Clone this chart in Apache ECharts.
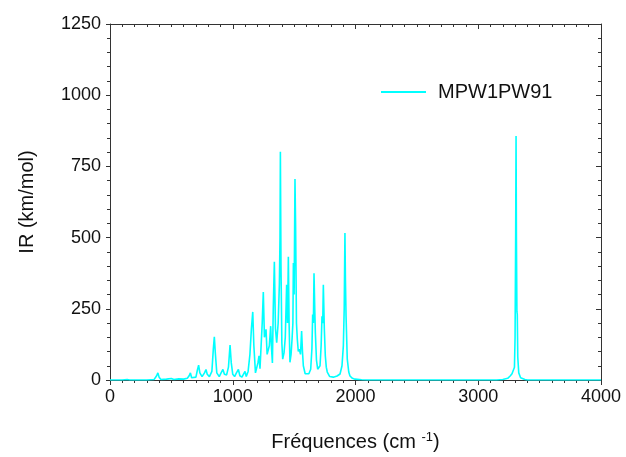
<!DOCTYPE html>
<html>
<head>
<meta charset="utf-8">
<script src="https://cdn.jsdelivr.net/npm/echarts@6/dist/echarts.min.js"></script>
<style>html,body{margin:0;padding:0;background:#fff}#c{width:626px;height:457px}</style>
</head>
<body>
<div id="c"></div>
<script>
var seriesName = 'MPW1PW91';
var xTicks = [0, 1000, 2000, 3000, 4000];
var yTicks = [0, 250, 500, 750, 1000, 1250];
var freq = [0,100,140,160,300,360,380,390,400,415,460,500,520,560,600,630,645,655,665,680,
  700,712,722,732,750,770,782,792,810,830,842,850,858,870,890,905,920,932,950,965,978,988,
  1000,1015,1030,1046,1058,1075,1090,1100,1110,1125,1140,1152,1163,1172,1185,1193,1205,1214,
  1222,1228,1240,1249,1258,1271,1280,1287,1298,1309,1316,1323,1330,1339,1348,1358,1370,1380,
  1385,1388,1393,1400,1407,1418,1428,1439,1446,1453,1459,1466,1475,1483,1490,1494,1500,1507,
  1512,1519,1526,1534,1542,1552,1561,1568,1575,1590,1602,1620,1635,1645,1651,1657,1662,1668,
  1673,1682,1692,1702,1711,1720,1727,1733,1738,1746,1754,1762,1770,1790,1819,1850,1874,1890,
  1901,1908,1914,1918,1923,1933,1945,1955,1975,1996,2050,2100,3150,3200,3240,3260,3275,3285,
  3295,3300,3305,3308,3311,3315,3318,3322,3330,3345,3380,3400,4000];
var ir = [0,0,2,0,0,2,15,25,10,2,3,5,2,4,3,6,15,25,8,4,
  10,35,52,25,12,25,37,20,12,30,110,152,95,25,12,25,37,20,18,45,123,60,
  20,12,25,37,15,10,22,30,12,30,90,180,239,120,25,21,60,85,
  40,37,200,309,150,178,90,85,120,189,110,60,250,415,180,131,200,338,
  500,801,400,130,73,96,150,334,200,433,200,62,90,143,200,411,300,706,
  543,200,143,100,108,90,172,100,50,22,15,22,38,110,230,200,375,250,
  166,70,38,40,50,120,224,200,334,180,85,45,28,12,10,14,21,50,
  120,250,516,350,224,73,28,14,6,3,1,0,0,2,6,14,22,20,
  45,150,520,857,500,240,230,80,25,8,2,0,0];

var data = freq.map(function (f, i) { return [f, ir[i]]; });
var FONT = 'Liberation Sans, Arial, sans-serif';
var AX = '#333';
function plain(v) { return String(v); }

var chart = echarts.init(document.getElementById('c'), null, {renderer: 'canvas'});
chart.setOption({
  animation: false,
  backgroundColor: '#fff',
  grid: {left: 110, right: 25, top: 24, bottom: 70, containLabel: false},
  legend: {
    left: 381, top: 82, padding: 0,
    data: [{name: seriesName, icon: 'rect'}],
    itemWidth: 45, itemHeight: 2,
    textStyle: {fontFamily: FONT, fontSize: 20, color: '#111', padding: [0, 0, 0, 7]}
  },
  xAxis: [{
    type: 'value', min: xTicks[0], max: xTicks[xTicks.length - 1], interval: 1000,
    position: 'bottom',
    name: '{a|Fréquences (cm }{s|-1}{a|)}',
    nameLocation: 'middle', nameGap: 51,
    nameTextStyle: {
      rich: {
        a: {fontFamily: FONT, fontSize: 20, color: '#111'},
        s: {fontFamily: FONT, fontSize: 13, color: '#111', verticalAlign: 'top', padding: [0, 0, 9, 0]}
      }
    },
    axisLine: {show: true, onZero: false, lineStyle: {color: AX, width: 1}},
    axisTick: {show: true, inside: false, length: 5, lineStyle: {color: AX}},
    minorTick: {show: true, splitNumber: 10, length: 3, lineStyle: {color: AX}},
    axisLabel: {fontFamily: FONT, fontSize: 18, color: '#111', margin: 8, formatter: plain},
    splitLine: {show: false}
  }, {
    type: 'value', min: 0, max: 4000, interval: 1000, position: 'top',
    axisLine: {show: true, onZero: false, lineStyle: {color: AX, width: 1}},
    axisTick: {show: true, inside: true, length: 5, lineStyle: {color: AX}},
    minorTick: {show: true, splitNumber: 10, length: 3, lineStyle: {color: AX}},
    axisLabel: {show: false}, splitLine: {show: false}
  }],
  yAxis: [{
    type: 'value', min: yTicks[0], max: yTicks[yTicks.length - 1], interval: 250,
    position: 'left',
    name: 'IR (km/mol)', nameLocation: 'middle', nameGap: 73,
    nameTextStyle: {fontFamily: FONT, fontSize: 20, color: '#111'},
    axisLine: {show: true, onZero: false, lineStyle: {color: AX, width: 1}},
    axisTick: {show: true, inside: false, length: 4, lineStyle: {color: AX}},
    minorTick: {show: true, splitNumber: 5, length: 3, lineStyle: {color: AX}},
    axisLabel: {fontFamily: FONT, fontSize: 18, color: '#111', margin: 9, formatter: plain},
    splitLine: {show: false}
  }, {
    type: 'value', min: 0, max: 1250, interval: 250, position: 'right',
    axisLine: {show: true, onZero: false, lineStyle: {color: AX, width: 1}},
    axisTick: {show: true, inside: true, length: 5, lineStyle: {color: AX}},
    minorTick: {show: true, splitNumber: 5, length: 3, lineStyle: {color: AX}},
    axisLabel: {show: false}, splitLine: {show: false}
  }],
  series: [{
    name: seriesName, type: 'line', data: data,
    xAxisIndex: 0, yAxisIndex: 0,
    showSymbol: false, symbol: 'none',
    lineStyle: {color: '#00FFFF', width: 1.6},
    itemStyle: {color: '#00FFFF'}
  }]
});
</script>
</body>
</html>
